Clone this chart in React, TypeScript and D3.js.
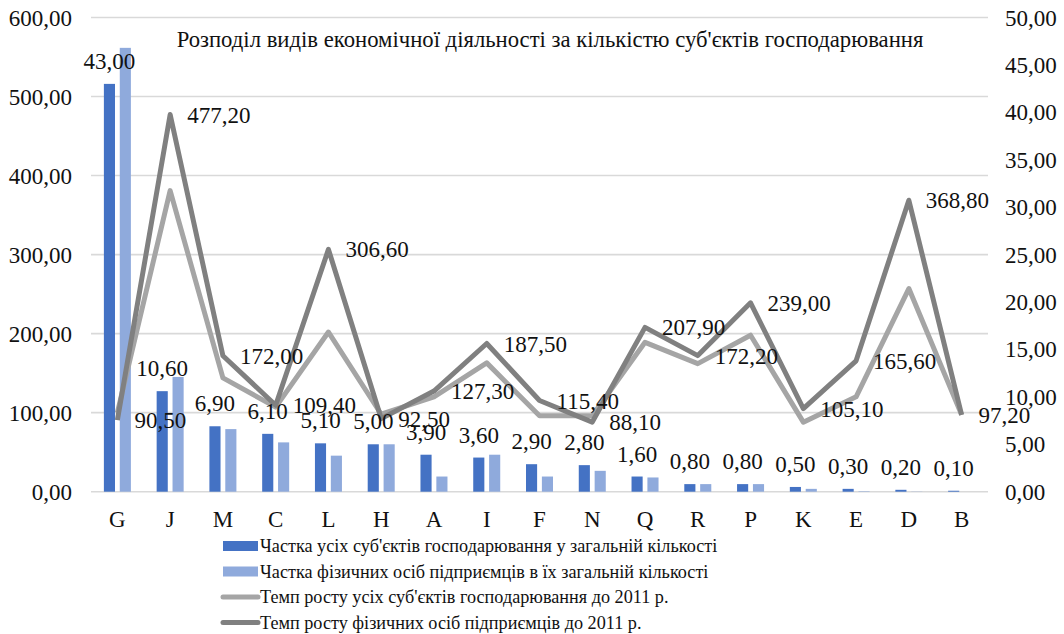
import React from "react";
import * as d3 from "d3";

const categories = ["G", "J", "M", "C", "L", "H", "A", "I", "F", "N", "Q", "R", "P", "K", "E", "D", "B"];
// Share of all business entities in total count (%), right axis
const shareAll = [43.0, 10.6, 6.9, 6.1, 5.1, 5.0, 3.9, 3.6, 2.9, 2.8, 1.6, 0.8, 0.8, 0.5, 0.3, 0.2, 0.1];
// Share of individual entrepreneurs in their total count (%), right axis
const shareFop = [46.8, 12.1, 6.6, 5.2, 3.8, 5.0, 1.6, 3.9, 1.6, 2.2, 1.5, 0.8, 0.8, 0.3, 0.05, 0.02, 0.0];
// Growth rate of all entities vs 2011 (%), left axis
const growthAll = [100, 381, 144, 107, 202, 98, 120, 163, 96, 96, 189, 162, 198, 88, 120, 257, 97.2];
// Growth rate of individual entrepreneurs vs 2011 (%), left axis
const growthFop = [90.5, 477.2, 172.0, 109.4, 306.6, 92.5, 127.3, 187.5, 115.4, 88.1, 207.9, 172.2, 239.0, 105.1, 165.6, 368.8, 97.2];

const leftTicks = [0, 100, 200, 300, 400, 500, 600];
const rightTicks = [0, 5, 10, 15, 20, 25, 30, 35, 40, 45, 50];

const title = "Розподіл видів економічної діяльності за кількістю суб'єктів господарювання";
const legendItems = [
  "Частка усіх суб'єктів господарювання у загальній кількості",
  "Частка фізичних осіб підприємців в їх загальній кількості",
  "Темп росту усіх суб'єктів господарювання до 2011 р.",
  "Темп росту фізичних осіб підприємців до 2011 р.",
];

const C_DARKBAR = "#4472c4";
const C_LIGHTBAR = "#8faadc";
const C_LIGHTLINE = "#a5a5a5";
const C_DARKLINE = "#808080";
const FONT = "'Liberation Serif', 'Times New Roman', serif";
const fmt = (v: number) => d3.format(".2f")(v).replace(".", ",");

export default function App() {
  const W = 1064, H = 634;
  const left = 91, right = 988, top = 17.5, bottom = 491.7;
  const x = d3.scaleBand<string>().domain(categories).range([left, right]).padding(0);
  const x1 = d3.scaleBand<string>().domain(["a", "b"]).range([-13.5, 13.5]).paddingInner(0.3);
  const yL = d3.scaleLinear().domain([0, 600]).range([bottom, top]);
  const yR = d3.scaleLinear().domain([0, 50]).range([bottom, top]);
  const cx = (c: string) => (x(c) as number) + x.bandwidth() / 2;

  const lineL = d3
    .line<number>()
    .x((_, i) => cx(categories[i]))
    .y((d) => yL(d));

  const legendRows = [546, 571.5, 597, 622.5];
  const NUM = 23;

  return (
    <svg
      width={W}
      height={H}
      style={{ position: "absolute", left: 0, top: 0, background: "#fff" }}
      fontFamily={FONT}
    >
      <rect x={0} y={0} width={W} height={H} fill="#fff" />
      {leftTicks.map((t) => (
        <line key={"g" + t} x1={left} x2={right} y1={yL(t)} y2={yL(t)} stroke="#d9d9d9" strokeWidth={1.6} />
      ))}
      {leftTicks.map((t) => (
        <text key={"l" + t} x={72} y={yL(t)} dy="0.35em" textAnchor="end" fontSize={NUM} fill="#111">
          {fmt(t)}
        </text>
      ))}
      {rightTicks.map((t) => (
        <text key={"r" + t} x={1005} y={yR(t)} dy="0.35em" textAnchor="start" fontSize={NUM} fill="#111">
          {fmt(t)}
        </text>
      ))}
      {categories.map((c) => (
        <text key={"x" + c} x={cx(c)} y={527} textAnchor="middle" fontSize={NUM} fill="#111">
          {c}
        </text>
      ))}
      {categories.map((c, i) => (
        <g key={"b" + c}>
          <rect
            x={cx(c) + (x1("a") as number)}
            width={x1.bandwidth()}
            y={yR(shareAll[i])}
            height={bottom - yR(shareAll[i])}
            fill={C_DARKBAR}
          />
          <rect
            x={cx(c) + (x1("b") as number)}
            width={x1.bandwidth()}
            y={yR(shareFop[i])}
            height={bottom - yR(shareFop[i])}
            fill={C_LIGHTBAR}
          />
        </g>
      ))}
      <path d={lineL(growthAll) || ""} fill="none" stroke={C_LIGHTLINE} strokeWidth={5} strokeLinejoin="round" />
      <path d={lineL(growthFop) || ""} fill="none" stroke={C_DARKLINE} strokeWidth={5} strokeLinejoin="round" />
      {categories.map((c, i) => (
        <text
          key={"bl" + c}
          x={cx(c) + (x1("a") as number) + x1.bandwidth() / 2}
          y={yR(shareAll[i]) - 23}
          dy="0.35em"
          textAnchor="middle"
          fontSize={NUM}
          fill="#111"
        >
          {fmt(shareAll[i])}
        </text>
      ))}
      {categories.map((c, i) => (
        <text key={"ll" + c} x={cx(c) + 17} y={yL(growthFop[i])} dy="0.35em" textAnchor="start" fontSize={NUM} fill="#111">
          {fmt(growthFop[i])}
        </text>
      ))}
      <text x={550} y={47} textAnchor="middle" fontSize={22.7} fill="#111">
        {title}
      </text>
      {legendItems.map((t, i) => (
        <g key={"lg" + i}>
          {i < 2 ? (
            <rect x={223} y={legendRows[i] - 5} width={35} height={10} fill={i === 0 ? C_DARKBAR : C_LIGHTBAR} />
          ) : (
            <line
              x1={223}
              x2={258}
              y1={legendRows[i]}
              y2={legendRows[i]}
              stroke={i === 2 ? C_LIGHTLINE : C_DARKLINE}
              strokeWidth={5}
              strokeLinecap="round"
            />
          )}
          <text x={260} y={legendRows[i]} dy="0.35em" fontSize={18.2} fill="#111">
            {t}
          </text>
        </g>
      ))}
    </svg>
  );
}
